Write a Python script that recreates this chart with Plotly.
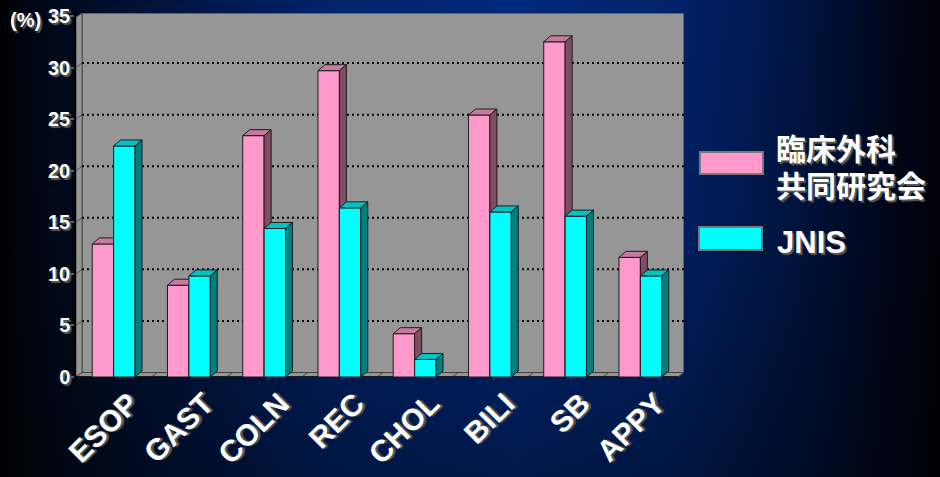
import base64
import plotly.graph_objects as go

# ---------------- data ----------------
categories = ["ESOP", "GAST", "COLN", "REC", "CHOL", "BILI", "SB", "APPY"]
rinsho_values = [12.9, 8.9, 23.4, 29.7, 4.2, 25.4, 32.5, 11.6]   # 臨床外科共同研究会
jnis_values = [22.4, 9.8, 14.4, 16.4, 1.7, 16.0, 15.6, 9.8]      # JNIS
y_tick_values = [0, 5, 10, 15, 20, 25, 30, 35]
legend_line1 = "臨床外科"
legend_line2 = "共同研究会"
legend_jnis = "JNIS"
y_unit_label = "(%)"

# ---------------- geometry ----------------
W, H = 940, 477
ML, MR, MT, MB = 76, 256, 13, 100
PW, PH = W - ML - MR, H - MT - MB
N = len(categories)

WALL_DX_PX, WALL_DY_PX = 6, 4.5
BAR_DX_PX, BAR_DY_PX = 7, 6

XSPAN = N * PW / (PW - WALL_DX_PX)          # x range width in category units
UX = XSPAN / PW                              # units per px (x)
YTOP = 35 * PH / 361.0
UY = YTOP / PH                               # units per px (y)
X0 = -0.5
X1 = X0 + XSPAN
DXW, DYW = WALL_DX_PX * UX, WALL_DY_PX * UY
DXB, DYB = BAR_DX_PX * UX, BAR_DY_PX * UY
BW = 21.4 * UX

def px_x(p):
    return (p - ML) / PW

def px_y(p):
    return 1 - (p - MT) / PH

FONT = "Liberation Sans, Arial, sans-serif"
CJK = "Liberation Sans, Noto Sans CJK JP, sans-serif"
SHADOW = "2px 2px 1px #5a5a5a"
GRAY = "#969696"
EDGE = "#1c1c1c"

fig = go.Figure()

# ---------------- walls & floor ----------------
back = dict(x=[X0 + DXW, X1, X1, X0 + DXW, X0 + DXW], y=[DYW, DYW, YTOP, YTOP, DYW])
left = dict(x=[X0, X0 + DXW, X0 + DXW, X0, X0], y=[0, DYW, YTOP, YTOP - DYW, 0])
floor = dict(x=[X0, X1 - DXW, X1, X0 + DXW, X0], y=[0, 0, DYW, DYW, 0])
for poly, lc in ((back, "#303030"), (left, "#505050"), (floor, "#404040")):
    fig.add_trace(go.Scatter(x=poly["x"], y=poly["y"], mode="lines", fill="toself",
                             fillcolor=GRAY, line=dict(color=lc, width=1),
                             hoverinfo="skip", showlegend=False))

# floor dividers between categories
fx, fy = [], []
for k in range(1, N):
    xb = X0 + k
    fx += [xb, xb + DXW, None]
    fy += [0, DYW, None]
fig.add_trace(go.Scatter(x=fx, y=fy, mode="lines", line=dict(color="#404040", width=1),
                         hoverinfo="skip", showlegend=False))

# gridlines on back wall
gx, gy, lx, ly = [], [], [], []
for v in y_tick_values[1:-1]:
    gx += [X0 + DXW, X1, None]
    gy += [v + DYW, v + DYW, None]
    lx += [X0, X0 + DXW, None]
    ly += [v, v + DYW, None]
fig.add_trace(go.Scatter(x=gx, y=gy, mode="lines",
                         line=dict(color="#000000", width=2, dash="2px,3px"),
                         hoverinfo="skip", showlegend=False))
fig.add_trace(go.Scatter(x=lx, y=ly, mode="lines", line=dict(color="#505050", width=1),
                         hoverinfo="skip", showlegend=False))

# front floor edge
fig.add_trace(go.Scatter(x=[X0, X1 - DXW], y=[0, 0], mode="lines",
                         line=dict(color="#000000", width=1.5),
                         hoverinfo="skip", showlegend=False))

# ---------------- 3D bars ----------------
def add_bars(values, offset, c_front, c_top, c_side, name):
    fr_x, fr_y, tp_x, tp_y, sd_x, sd_y = [], [], [], [], [], []
    for i, v in enumerate(values):
        a = i + offset
        b = a + BW
        fr_x += [a, b, b, a, a, None]
        fr_y += [0, 0, v, v, 0, None]
        tp_x += [a, b, b + DXB, a + DXB, a, None]
        tp_y += [v, v, v + DYB, v + DYB, v, None]
        sd_x += [b, b + DXB, b + DXB, b, b, None]
        sd_y += [0, DYB, v + DYB, v, 0, None]
    for xs, ys, col in ((fr_x, fr_y, c_front), (tp_x, tp_y, c_top), (sd_x, sd_y, c_side)):
        fig.add_trace(go.Scatter(x=xs, y=ys, mode="lines", fill="toself", fillcolor=col,
                                 line=dict(color=EDGE, width=1), name=name,
                                 hoverinfo="skip", showlegend=False))

add_bars(rinsho_values, -BW, "#FF99CC", "#C97A9F", "#7F4D66", legend_line1 + legend_line2)
add_bars(jnis_values, 0.0, "#00FFFF", "#00C4C4", "#007F7F", legend_jnis)

# ---------------- background gradient ----------------
svg = f"""<svg xmlns='http://www.w3.org/2000/svg' width='{W}' height='{H}'>
<defs>
<linearGradient id='h' x1='0' y1='0' x2='1' y2='0'>
<stop offset='0' stop-color='#000005'/>
<stop offset='0.05' stop-color='#000818'/>
<stop offset='0.15' stop-color='#001236'/>
<stop offset='0.35' stop-color='#00236c'/>
<stop offset='0.55' stop-color='#00297b'/>
<stop offset='0.72' stop-color='#00226a'/>
<stop offset='0.85' stop-color='#001442'/>
<stop offset='0.95' stop-color='#00061a'/>
<stop offset='1' stop-color='#000008'/>
</linearGradient>
<linearGradient id='v' x1='0' y1='0' x2='0' y2='1'>
<stop offset='0' stop-color='#000000' stop-opacity='0'/>
<stop offset='0.5' stop-color='#000000' stop-opacity='0.1'/>
<stop offset='1' stop-color='#000000' stop-opacity='0.4'/>
</linearGradient>
</defs>
<rect width='{W}' height='{H}' fill='url(#h)'/>
<rect width='{W}' height='{H}' fill='url(#v)'/>
</svg>"""
src = "data:image/svg+xml;base64," + base64.b64encode(svg.encode()).decode()
fig.add_layout_image(dict(source=src, xref="paper", yref="paper",
                          x=-ML / PW, y=1 + MT / PH, sizex=W / PW, sizey=H / PH,
                          xanchor="left", yanchor="top", sizing="stretch", layer="below"))

# ---------------- legend (swatches + text) ----------------
for (x0, y0, x1, y1, col) in ((700, 152, 763, 174, "#FF99CC"), (699, 227, 762, 250, "#00FFFF")):
    fig.add_shape(type="rect", xref="paper", yref="paper",
                  x0=px_x(x0), x1=px_x(x1), y0=px_y(y1), y1=px_y(y0),
                  fillcolor=col, line=dict(color="#7a7a7a", width=2))

def add_text(txt, xpx, ypx, size, family):
    fig.add_annotation(text=txt, xref="paper", yref="paper", x=px_x(xpx), y=px_y(ypx),
                       xanchor="left", yanchor="middle", showarrow=False, borderpad=0,
                       font=dict(family=family, size=size, color="white", weight="bold",
                                 shadow=SHADOW))

add_text(legend_line1, 775, 149, 30, CJK)
add_text(legend_line2, 775, 186, 30, CJK)
add_text(legend_jnis, 776, 242, 31, FONT)
add_text(y_unit_label, 9, 20, 20, FONT)

# ---------------- axes & layout ----------------
fig.update_layout(
    width=W, height=H,
    margin=dict(l=ML, r=MR, t=MT, b=MB, pad=0, autoexpand=False),
    paper_bgcolor="rgba(0,0,0,0)", plot_bgcolor="rgba(0,0,0,0)",
    showlegend=False,
    xaxis=dict(range=[X0, X1], tickvals=list(range(N)), ticktext=categories,
               tickangle=-45, showgrid=False, zeroline=False, showline=False, ticks="",
               ticklabelshift=16, ticklabelstandoff=2, automargin=False,
               tickfont=dict(family=FONT, size=30, color="white", weight="bold", shadow=SHADOW),
               fixedrange=True),
    yaxis=dict(range=[0, YTOP], tickvals=y_tick_values, ticktext=[str(v) for v in y_tick_values],
               showgrid=False, zeroline=False, showline=True, linecolor="#000000", linewidth=1.5,
               ticks="outside", ticklen=4, tickwidth=2, tickcolor="#606060",
               ticklabelstandoff=-4, automargin=False,
               tickfont=dict(family=FONT, size=20, color="white", weight="bold", shadow=SHADOW),
               fixedrange=True),
)

fig.write_html("out.html")
